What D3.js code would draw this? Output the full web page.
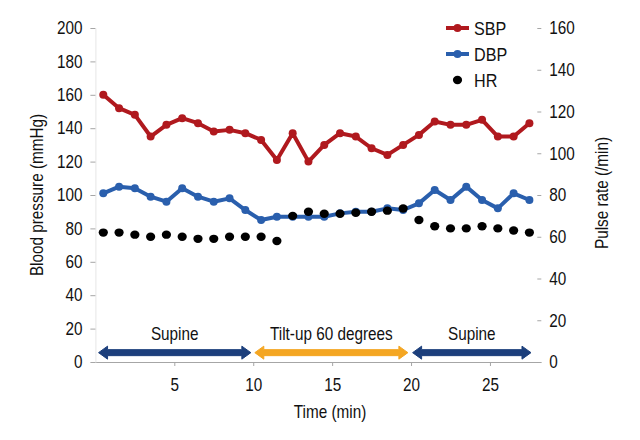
<!DOCTYPE html>
<html><head><meta charset="utf-8">
<script src="https://cdn.jsdelivr.net/npm/d3@7"></script>
<style>
body{margin:0;background:#fff;}
text{font-family:"Liberation Sans",Arial,sans-serif;fill:#111;}
</style></head><body>
<svg id="c" width="640" height="440"></svg>
<script>
const times = d3.range(28).map(i => i + 0.5);
const sbp = [160,152,148,135,142,146,143,138,139,137,133,121,137,120,130,137,135,128,124,130,136,144,142,142,145,135,135,143];
const dbp = [101,105,104,99,96,104,99,96,98,91,85,87,87,87,87,89,90,90,92,91,95,103,97,105,97,92,101,97];
const hr  = [62,62,61,60,61,60,59,59,60,60,60,58,70,72,71,71,71.5,72,72.5,73.5,68,65,64,64,65,64,63,62];
const xTicks = [5,10,15,20,25];
const yLeftTicks = [0,20,40,60,80,100,120,140,160,180,200];
const yRightTicks = [0,20,40,60,80,100,120,140,160];
const phases = [
  {label:"Supine", from:0.2, to:9.85, color:"#1c3f7c"},
  {label:"Tilt-up 60 degrees", from:10.1, to:19.8, color:"#f4a622"},
  {label:"Supine", from:20.1, to:27.6, color:"#1c3f7c"}
];
const arrowLevel = 5.6;
const labelLevel = 17;
const SX = 0.85; // horizontal condensing of text

const svg = d3.select("#c");
const x = d3.scaleLinear().domain([0,28]).range([95.4,537.3]);
const yL = d3.scaleLinear().domain([0,200]).range([362,28]);
const yR = d3.scaleLinear().domain([0,160]).range([362,28]);

function label(px, py, str, size, anchor, rot) {
  return svg.append("text")
    .attr("transform", `translate(${px},${py})` + (rot ? ` rotate(${rot})` : "") + ` scale(${SX},1)`)
    .attr("text-anchor", anchor || "start").attr("font-size", size).text(str);
}
function condenseTicks(g) {
  g.selectAll(".tick text").each(function() {
    const t = d3.select(this);
    const xv = +t.attr("x") || 0;
    t.attr("x", xv / SX).attr("transform", `scale(${SX},1)`).attr("font-size", 18).attr("fill","#111");
  });
}

// axes
const gx = svg.append("g").attr("transform","translate(0,362)")
  .call(d3.axisBottom(x).tickValues(xTicks).tickSize(4).tickPadding(12).tickSizeOuter(0));
gx.select(".domain").attr("stroke","#a6a6a6").attr("d","M95.4,0.5H541.5");
gx.selectAll(".tick line").attr("stroke","#a6a6a6");
condenseTicks(gx);

const gl = svg.append("g").attr("transform","translate(95.4,0)")
  .call(d3.axisLeft(yL).tickValues(yLeftTicks).tickSize(5).tickPadding(8).tickSizeOuter(0));
gl.select(".domain").attr("stroke","#e6e6e6");
gl.selectAll(".tick line").attr("stroke","#a6a6a6");
condenseTicks(gl);

const gr = svg.append("g").attr("transform","translate(537.3,0)")
  .call(d3.axisRight(yR).tickValues(yRightTicks).tickSize(4).tickPadding(8).tickSizeOuter(0));
gr.select(".domain").remove();
gr.selectAll(".tick line").attr("stroke","#a6a6a6");
condenseTicks(gr);

// axis titles
label(43, 195, "Blood pressure (mmHg)", 18, "middle", -90);
label(608, 193, "Pulse rate (/min)", 18, "middle", -90);
label(330, 418, "Time (min)", 18, "middle");

// phase arrows
phases.forEach(p => {
  const y0 = yL(arrowLevel);
  const x0 = x(p.from), x1 = x(p.to);
  const hl = 9, hw = 6.5, sw = 3;
  const path = `M${x0},${y0} L${x0+hl},${y0-hw} L${x0+hl},${y0-sw} L${x1-hl},${y0-sw} L${x1-hl},${y0-hw} L${x1},${y0} L${x1-hl},${y0+hw} L${x1-hl},${y0+sw} L${x0+hl},${y0+sw} L${x0+hl},${y0+hw} Z`;
  svg.append("path").attr("d",path).attr("fill",p.color).attr("stroke",p.color).attr("stroke-width",1).attr("stroke-linejoin","round");
  label((x0+x1)/2, yL(labelLevel)+6, p.label, 18, "middle");
});

// series
const sbpCol = "#b0191e", dbpCol = "#2a5fad";
const line = (yS, vals) => d3.line().x((d,i)=>x(times[i])).y(d=>yS(d))(vals);
svg.append("path").attr("d",line(yL, dbp)).attr("fill","none").attr("stroke",dbpCol).attr("stroke-width",4).attr("stroke-linejoin","round");
svg.selectAll(".dbpPt").data(dbp).join("circle").attr("cx",(d,i)=>x(times[i])).attr("cy",d=>yL(d)).attr("r",4).attr("fill",dbpCol);
svg.append("path").attr("d",line(yL, sbp)).attr("fill","none").attr("stroke",sbpCol).attr("stroke-width",4).attr("stroke-linejoin","round");
svg.selectAll(".sbpPt").data(sbp).join("circle").attr("cx",(d,i)=>x(times[i])).attr("cy",d=>yL(d)).attr("r",4).attr("fill",sbpCol);
svg.selectAll(".hrPt").data(hr).join("ellipse").attr("cx",(d,i)=>x(times[i])).attr("cy",d=>yR(d)).attr("rx",4.6).attr("ry",4.2).attr("fill","#000");

// legend
const leg = [{k:"SBP",c:sbpCol,ln:true},{k:"DBP",c:dbpCol,ln:true},{k:"HR",c:"#000",ln:false}];
leg.forEach((l,i) => {
  const ly = 28 + i*26;
  if (l.ln) {
    svg.append("line").attr("x1",446).attr("x2",469).attr("y1",ly).attr("y2",ly).attr("stroke",l.c).attr("stroke-width",4);
    svg.append("circle").attr("cx",457.5).attr("cy",ly).attr("r",4).attr("fill",l.c);
  } else {
    svg.append("ellipse").attr("cx",457.5).attr("cy",ly).attr("rx",4.6).attr("ry",4.2).attr("fill",l.c);
  }
  label(474, ly+7, l.k, 19, "start");
});
</script></body></html>
